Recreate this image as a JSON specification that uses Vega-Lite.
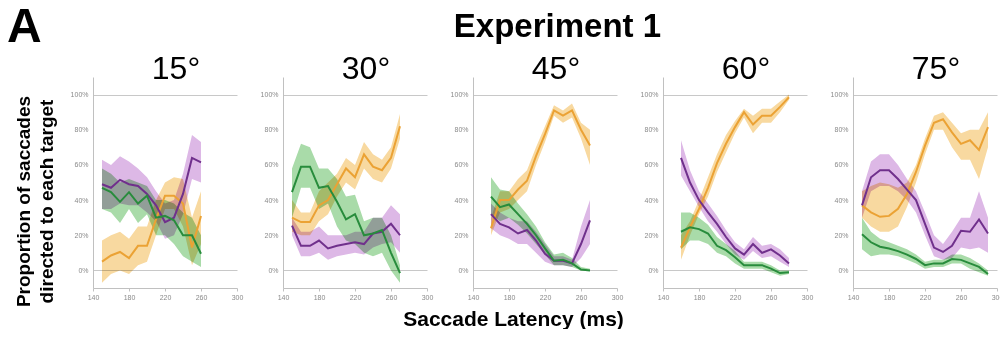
{
  "$schema": "https://vega.github.io/schema/vega-lite/v6.json",
  "padding": {"left": 7, "top": 4, "right": 0, "bottom": 0},
  "background": "white",
  "title": {"text": "A", "anchor": "start", "fontSize": 48, "fontWeight": "bold", "font": "Liberation Sans", "color": "black", "baseline": "alphabetic", "offset": -79, "frame": "bounds", "dx": -7},
  "data": {"values": [
    {"p":"15","s":"orange","x":150,"m":5,"lo":-7,"hi":17},
    {"p":"15","s":"orange","x":160,"m":8.5,"lo":-2,"hi":20},
    {"p":"15","s":"orange","x":170,"m":10.5,"lo":0,"hi":22},
    {"p":"15","s":"orange","x":180,"m":7,"lo":-2,"hi":18},
    {"p":"15","s":"orange","x":190,"m":14,"lo":3,"hi":25},
    {"p":"15","s":"orange","x":200,"m":14,"lo":5,"hi":25},
    {"p":"15","s":"orange","x":210,"m":29,"lo":20,"hi":40},
    {"p":"15","s":"orange","x":220,"m":42.5,"lo":35,"hi":50},
    {"p":"15","s":"orange","x":230,"m":42.5,"lo":35,"hi":53},
    {"p":"15","s":"orange","x":240,"m":38,"lo":25,"hi":52},
    {"p":"15","s":"orange","x":250,"m":13,"lo":3,"hi":30},
    {"p":"15","s":"orange","x":260,"m":31,"lo":15,"hi":45},
    {"p":"15","s":"purple","x":150,"m":49,"lo":35,"hi":63},
    {"p":"15","s":"purple","x":160,"m":47,"lo":35,"hi":60},
    {"p":"15","s":"purple","x":170,"m":51.5,"lo":38,"hi":65},
    {"p":"15","s":"purple","x":180,"m":49,"lo":37,"hi":62},
    {"p":"15","s":"purple","x":190,"m":48,"lo":37,"hi":58},
    {"p":"15","s":"purple","x":200,"m":43.5,"lo":33,"hi":53},
    {"p":"15","s":"purple","x":210,"m":37,"lo":28,"hi":45},
    {"p":"15","s":"purple","x":220,"m":27.5,"lo":18,"hi":38},
    {"p":"15","s":"purple","x":230,"m":30,"lo":20,"hi":40},
    {"p":"15","s":"purple","x":240,"m":43.5,"lo":32,"hi":55},
    {"p":"15","s":"purple","x":250,"m":64,"lo":52,"hi":77},
    {"p":"15","s":"purple","x":260,"m":61.5,"lo":50,"hi":73},
    {"p":"15","s":"green","x":150,"m":47,"lo":35,"hi":58},
    {"p":"15","s":"green","x":160,"m":44.5,"lo":33,"hi":55},
    {"p":"15","s":"green","x":170,"m":39,"lo":27,"hi":50},
    {"p":"15","s":"green","x":180,"m":44.5,"lo":35,"hi":52},
    {"p":"15","s":"green","x":190,"m":38,"lo":27,"hi":50},
    {"p":"15","s":"green","x":200,"m":42.5,"lo":32,"hi":48},
    {"p":"15","s":"green","x":210,"m":30,"lo":20,"hi":40},
    {"p":"15","s":"green","x":220,"m":31,"lo":20,"hi":40},
    {"p":"15","s":"green","x":230,"m":28.5,"lo":15,"hi":38},
    {"p":"15","s":"green","x":240,"m":20,"lo":8,"hi":33},
    {"p":"15","s":"green","x":250,"m":20,"lo":5,"hi":30},
    {"p":"15","s":"green","x":260,"m":9.5,"lo":2,"hi":20},

    {"p":"30","s":"orange","x":150,"m":30,"lo":22,"hi":40},
    {"p":"30","s":"orange","x":160,"m":27.5,"lo":20,"hi":33},
    {"p":"30","s":"orange","x":170,"m":27.5,"lo":20,"hi":33},
    {"p":"30","s":"orange","x":180,"m":37,"lo":28,"hi":45},
    {"p":"30","s":"orange","x":190,"m":40,"lo":32,"hi":50},
    {"p":"30","s":"orange","x":200,"m":49,"lo":42,"hi":55},
    {"p":"30","s":"orange","x":210,"m":58,"lo":50,"hi":64},
    {"p":"30","s":"orange","x":220,"m":53,"lo":46,"hi":60},
    {"p":"30","s":"orange","x":230,"m":66,"lo":58,"hi":73},
    {"p":"30","s":"orange","x":240,"m":59,"lo":52,"hi":66},
    {"p":"30","s":"orange","x":250,"m":57,"lo":50,"hi":63},
    {"p":"30","s":"orange","x":260,"m":64,"lo":58,"hi":70},
    {"p":"30","s":"orange","x":270,"m":82,"lo":75,"hi":89},
    {"p":"30","s":"purple","x":150,"m":25.5,"lo":20,"hi":30},
    {"p":"30","s":"purple","x":160,"m":14,"lo":8,"hi":22},
    {"p":"30","s":"purple","x":170,"m":14,"lo":8,"hi":22},
    {"p":"30","s":"purple","x":180,"m":17,"lo":10,"hi":25},
    {"p":"30","s":"purple","x":190,"m":12.5,"lo":6,"hi":20},
    {"p":"30","s":"purple","x":200,"m":14,"lo":8,"hi":20},
    {"p":"30","s":"purple","x":210,"m":15,"lo":9,"hi":20},
    {"p":"30","s":"purple","x":220,"m":16,"lo":10,"hi":22},
    {"p":"30","s":"purple","x":230,"m":15,"lo":9,"hi":22},
    {"p":"30","s":"purple","x":240,"m":21,"lo":13,"hi":30},
    {"p":"30","s":"purple","x":250,"m":22,"lo":15,"hi":30},
    {"p":"30","s":"purple","x":260,"m":26.5,"lo":16,"hi":37},
    {"p":"30","s":"purple","x":270,"m":20,"lo":10,"hi":32},
    {"p":"30","s":"green","x":150,"m":44.5,"lo":30,"hi":58},
    {"p":"30","s":"green","x":160,"m":59,"lo":47,"hi":72},
    {"p":"30","s":"green","x":170,"m":59,"lo":47,"hi":70},
    {"p":"30","s":"green","x":180,"m":47,"lo":35,"hi":58},
    {"p":"30","s":"green","x":190,"m":48,"lo":38,"hi":58},
    {"p":"30","s":"green","x":200,"m":39,"lo":25,"hi":52},
    {"p":"30","s":"green","x":210,"m":29,"lo":17,"hi":42},
    {"p":"30","s":"green","x":220,"m":32,"lo":15,"hi":43},
    {"p":"30","s":"green","x":230,"m":20,"lo":10,"hi":28},
    {"p":"30","s":"green","x":240,"m":21,"lo":8,"hi":30},
    {"p":"30","s":"green","x":250,"m":23,"lo":10,"hi":30},
    {"p":"30","s":"green","x":260,"m":10,"lo":0,"hi":20},
    {"p":"30","s":"green","x":270,"m":-1.5,"lo":-7,"hi":3},

    {"p":"45","s":"orange","x":160,"m":24,"lo":20,"hi":30},
    {"p":"45","s":"orange","x":170,"m":40,"lo":33,"hi":45},
    {"p":"45","s":"orange","x":180,"m":40,"lo":35,"hi":45},
    {"p":"45","s":"orange","x":190,"m":46,"lo":40,"hi":52},
    {"p":"45","s":"orange","x":200,"m":51,"lo":45,"hi":57},
    {"p":"45","s":"orange","x":210,"m":65,"lo":60,"hi":70},
    {"p":"45","s":"orange","x":220,"m":77.5,"lo":73,"hi":82},
    {"p":"45","s":"orange","x":230,"m":91,"lo":88,"hi":94},
    {"p":"45","s":"orange","x":240,"m":88,"lo":84,"hi":91},
    {"p":"45","s":"orange","x":250,"m":91,"lo":87,"hi":95},
    {"p":"45","s":"orange","x":260,"m":80,"lo":75,"hi":84},
    {"p":"45","s":"orange","x":270,"m":71,"lo":60,"hi":80},
    {"p":"45","s":"purple","x":160,"m":32,"lo":24,"hi":38},
    {"p":"45","s":"purple","x":170,"m":26.5,"lo":20,"hi":33},
    {"p":"45","s":"purple","x":180,"m":24.5,"lo":18,"hi":30},
    {"p":"45","s":"purple","x":190,"m":21,"lo":15,"hi":28},
    {"p":"45","s":"purple","x":200,"m":23,"lo":15,"hi":28},
    {"p":"45","s":"purple","x":210,"m":17,"lo":10,"hi":22},
    {"p":"45","s":"purple","x":220,"m":9.5,"lo":5,"hi":15},
    {"p":"45","s":"purple","x":230,"m":5.5,"lo":3,"hi":8},
    {"p":"45","s":"purple","x":240,"m":5.5,"lo":3,"hi":8},
    {"p":"45","s":"purple","x":250,"m":4,"lo":2,"hi":6},
    {"p":"45","s":"purple","x":260,"m":15,"lo":7,"hi":25},
    {"p":"45","s":"purple","x":270,"m":28.5,"lo":15,"hi":40},
    {"p":"45","s":"green","x":160,"m":42,"lo":32,"hi":53},
    {"p":"45","s":"green","x":170,"m":36,"lo":28,"hi":46},
    {"p":"45","s":"green","x":180,"m":37.5,"lo":30,"hi":45},
    {"p":"45","s":"green","x":190,"m":32,"lo":26,"hi":38},
    {"p":"45","s":"green","x":200,"m":26.5,"lo":21,"hi":32},
    {"p":"45","s":"green","x":210,"m":20,"lo":15,"hi":25},
    {"p":"45","s":"green","x":220,"m":12.5,"lo":9,"hi":16},
    {"p":"45","s":"green","x":230,"m":5.5,"lo":3,"hi":9},
    {"p":"45","s":"green","x":240,"m":6,"lo":3,"hi":10},
    {"p":"45","s":"green","x":250,"m":4,"lo":2,"hi":7},
    {"p":"45","s":"green","x":260,"m":0.5,"lo":0,"hi":2},
    {"p":"45","s":"green","x":270,"m":0,"lo":0,"hi":1},

    {"p":"60","s":"orange","x":160,"m":13,"lo":6,"hi":20},
    {"p":"60","s":"orange","x":170,"m":24.5,"lo":20,"hi":28},
    {"p":"60","s":"orange","x":180,"m":35,"lo":32,"hi":40},
    {"p":"60","s":"orange","x":190,"m":47,"lo":42,"hi":53},
    {"p":"60","s":"orange","x":200,"m":61,"lo":56,"hi":66},
    {"p":"60","s":"orange","x":210,"m":72,"lo":67,"hi":77},
    {"p":"60","s":"orange","x":220,"m":81.5,"lo":78,"hi":85},
    {"p":"60","s":"orange","x":230,"m":90,"lo":87,"hi":92},
    {"p":"60","s":"orange","x":240,"m":83,"lo":78,"hi":88},
    {"p":"60","s":"orange","x":250,"m":88,"lo":84,"hi":92},
    {"p":"60","s":"orange","x":260,"m":88,"lo":84,"hi":92},
    {"p":"60","s":"orange","x":270,"m":93,"lo":90,"hi":96},
    {"p":"60","s":"orange","x":280,"m":98.5,"lo":97,"hi":100},
    {"p":"60","s":"purple","x":160,"m":64,"lo":54,"hi":74},
    {"p":"60","s":"purple","x":170,"m":50,"lo":45,"hi":57},
    {"p":"60","s":"purple","x":180,"m":40,"lo":36,"hi":45},
    {"p":"60","s":"purple","x":190,"m":33,"lo":28,"hi":38},
    {"p":"60","s":"purple","x":200,"m":26.5,"lo":22,"hi":31},
    {"p":"60","s":"purple","x":210,"m":19,"lo":15,"hi":23},
    {"p":"60","s":"purple","x":220,"m":12.5,"lo":9,"hi":16},
    {"p":"60","s":"purple","x":230,"m":9,"lo":6,"hi":12},
    {"p":"60","s":"purple","x":240,"m":15,"lo":11,"hi":19},
    {"p":"60","s":"purple","x":250,"m":10,"lo":7,"hi":14},
    {"p":"60","s":"purple","x":260,"m":12,"lo":8,"hi":15},
    {"p":"60","s":"purple","x":270,"m":8.5,"lo":5,"hi":12},
    {"p":"60","s":"purple","x":280,"m":4,"lo":2,"hi":7},
    {"p":"60","s":"green","x":160,"m":22,"lo":12,"hi":33},
    {"p":"60","s":"green","x":170,"m":24.5,"lo":17,"hi":33},
    {"p":"60","s":"green","x":180,"m":23.5,"lo":17,"hi":30},
    {"p":"60","s":"green","x":190,"m":21,"lo":15,"hi":26},
    {"p":"60","s":"green","x":200,"m":14,"lo":10,"hi":19},
    {"p":"60","s":"green","x":210,"m":11.5,"lo":8,"hi":15},
    {"p":"60","s":"green","x":220,"m":7.5,"lo":4,"hi":11},
    {"p":"60","s":"green","x":230,"m":3,"lo":1,"hi":5},
    {"p":"60","s":"green","x":240,"m":3,"lo":1,"hi":5},
    {"p":"60","s":"green","x":250,"m":3,"lo":1,"hi":5},
    {"p":"60","s":"green","x":260,"m":1,"lo":-1,"hi":3},
    {"p":"60","s":"green","x":270,"m":-1.5,"lo":-3,"hi":0},
    {"p":"60","s":"green","x":280,"m":-1,"lo":-2,"hi":0},

    {"p":"75","s":"orange","x":150,"m":37,"lo":30,"hi":45},
    {"p":"75","s":"orange","x":160,"m":33,"lo":25,"hi":48},
    {"p":"75","s":"orange","x":170,"m":30.5,"lo":22,"hi":50},
    {"p":"75","s":"orange","x":180,"m":31,"lo":22,"hi":49},
    {"p":"75","s":"orange","x":190,"m":35,"lo":25,"hi":47},
    {"p":"75","s":"orange","x":200,"m":43.5,"lo":36,"hi":50},
    {"p":"75","s":"orange","x":210,"m":56,"lo":50,"hi":60},
    {"p":"75","s":"orange","x":220,"m":71,"lo":66,"hi":75},
    {"p":"75","s":"orange","x":230,"m":84,"lo":80,"hi":88},
    {"p":"75","s":"orange","x":240,"m":86,"lo":80,"hi":90},
    {"p":"75","s":"orange","x":250,"m":78.5,"lo":70,"hi":84},
    {"p":"75","s":"orange","x":260,"m":72,"lo":63,"hi":78},
    {"p":"75","s":"orange","x":270,"m":74,"lo":63,"hi":80},
    {"p":"75","s":"orange","x":280,"m":68.5,"lo":52,"hi":80},
    {"p":"75","s":"orange","x":290,"m":81.5,"lo":70,"hi":90},
    {"p":"75","s":"purple","x":150,"m":37,"lo":30,"hi":45},
    {"p":"75","s":"purple","x":160,"m":53,"lo":45,"hi":62},
    {"p":"75","s":"purple","x":170,"m":57,"lo":48,"hi":66},
    {"p":"75","s":"purple","x":180,"m":57,"lo":48,"hi":66},
    {"p":"75","s":"purple","x":190,"m":52,"lo":45,"hi":60},
    {"p":"75","s":"purple","x":200,"m":46,"lo":40,"hi":52},
    {"p":"75","s":"purple","x":210,"m":40,"lo":33,"hi":45},
    {"p":"75","s":"purple","x":220,"m":26.5,"lo":20,"hi":33},
    {"p":"75","s":"purple","x":230,"m":13,"lo":8,"hi":20},
    {"p":"75","s":"purple","x":240,"m":10.5,"lo":6,"hi":15},
    {"p":"75","s":"purple","x":250,"m":14,"lo":7,"hi":22},
    {"p":"75","s":"purple","x":260,"m":22.5,"lo":13,"hi":30},
    {"p":"75","s":"purple","x":270,"m":22,"lo":12,"hi":30},
    {"p":"75","s":"purple","x":280,"m":29,"lo":13,"hi":45},
    {"p":"75","s":"purple","x":290,"m":21,"lo":10,"hi":30},
    {"p":"75","s":"green","x":150,"m":20.5,"lo":12,"hi":30},
    {"p":"75","s":"green","x":160,"m":16,"lo":8,"hi":22},
    {"p":"75","s":"green","x":170,"m":13.5,"lo":9,"hi":18},
    {"p":"75","s":"green","x":180,"m":12.5,"lo":9,"hi":16},
    {"p":"75","s":"green","x":190,"m":11,"lo":8,"hi":14},
    {"p":"75","s":"green","x":200,"m":9,"lo":6,"hi":12},
    {"p":"75","s":"green","x":210,"m":6.5,"lo":4,"hi":9},
    {"p":"75","s":"green","x":220,"m":3,"lo":1,"hi":5},
    {"p":"75","s":"green","x":230,"m":4,"lo":2,"hi":6},
    {"p":"75","s":"green","x":240,"m":4,"lo":2,"hi":6},
    {"p":"75","s":"green","x":250,"m":6.5,"lo":4,"hi":9},
    {"p":"75","s":"green","x":260,"m":6,"lo":4,"hi":9},
    {"p":"75","s":"green","x":270,"m":4,"lo":1,"hi":7},
    {"p":"75","s":"green","x":280,"m":2,"lo":-1,"hi":4},
    {"p":"75","s":"green","x":290,"m":-2,"lo":-3,"hi":0}
  ]},
  "vconcat": [{
    "title": {"text": "Experiment 1", "anchor": "middle", "frame": "bounds", "fontSize": 33, "fontWeight": "bold", "font": "Liberation Sans", "color": "black", "baseline": "alphabetic", "offset": -17, "dx": 49},
    "bounds": "flush",
    "spacing": 46,
    "hconcat": [
      {"title": {"text": "15°", "fontSize": 32, "fontWeight": "normal", "font": "Liberation Sans", "color": "black", "baseline": "alphabetic", "offset": -34, "dx": 11, "anchor": "middle"},
       "width": 144, "height": 211,
       "transform": [{"filter": "datum.p == '15'"}],
       "encoding": {
         "x": {"field": "x", "type": "quantitative", "scale": {"domain": [140, 300], "nice": false, "zero": false}, "axis": {"values": [140,180,220,260,300], "labelFlush": false, "grid": false, "title": null}}
       },
       "layer": [
         {"mark": {"type": "area", "blend": "multiply", "opacity": 1},
          "encoding": {"y": {"field": "lo", "type": "quantitative", "scale": {"domain": [-10, 110], "nice": false}, "axis": {"values": [0,20,40,60,80,100], "labelExpr": "datum.value + '%'", "title": ["Proportion of saccades", "directed to each target"], "titleY": 124}}, "y2": {"field": "hi"},
            "color": {"field": "s", "type": "nominal", "legend": null, "scale": {"domain": ["orange","purple","green"], "range": ["#F8D9A0","#DDB8E6","#A9DBA9"]}}}},
         {"mark": {"type": "line", "strokeWidth": 2},
          "encoding": {"y": {"field": "m", "type": "quantitative", "axis": {"values": [0,20,40,60,80,100], "labelExpr": "datum.value + '%'", "title": ["Proportion of saccades", "directed to each target"], "titleY": 124}},
            "stroke": {"field": "s", "type": "nominal", "legend": null, "scale": {"domain": ["orange","purple","green"], "range": ["#EBA234","#70308C","#288C3C"]}}}}
       ]},
      {"title": {"text": "30°", "fontSize": 32, "fontWeight": "normal", "font": "Liberation Sans", "color": "black", "baseline": "alphabetic", "offset": -34, "dx": 11, "anchor": "middle"},
       "width": 144, "height": 211,
       "transform": [{"filter": "datum.p == '30'"}],
       "encoding": {
         "x": {"field": "x", "type": "quantitative", "scale": {"domain": [140, 300], "nice": false, "zero": false}, "axis": {"values": [140,180,220,260,300], "labelFlush": false, "grid": false, "title": null}}
       },
       "layer": [
         {"mark": {"type": "area", "blend": "multiply", "opacity": 1},
          "encoding": {"y": {"field": "lo", "type": "quantitative", "scale": {"domain": [-10, 110], "nice": false}, "axis": {"values": [0,20,40,60,80,100], "labelExpr": "datum.value + '%'", "title": null}}, "y2": {"field": "hi"},
            "color": {"field": "s", "type": "nominal", "legend": null, "scale": {"domain": ["orange","purple","green"], "range": ["#F8D9A0","#DDB8E6","#A9DBA9"]}}}},
         {"mark": {"type": "line", "strokeWidth": 2},
          "encoding": {"y": {"field": "m", "type": "quantitative", "axis": {"values": [0,20,40,60,80,100], "labelExpr": "datum.value + '%'", "title": null}},
            "stroke": {"field": "s", "type": "nominal", "legend": null, "scale": {"domain": ["orange","purple","green"], "range": ["#EBA234","#70308C","#288C3C"]}}}}
       ]},
      {"title": {"text": "45°", "fontSize": 32, "fontWeight": "normal", "font": "Liberation Sans", "color": "black", "baseline": "alphabetic", "offset": -34, "dx": 11, "anchor": "middle"},
       "width": 144, "height": 211,
       "transform": [{"filter": "datum.p == '45'"}],
       "encoding": {
         "x": {"field": "x", "type": "quantitative", "scale": {"domain": [140, 300], "nice": false, "zero": false}, "axis": {"values": [140,180,220,260,300], "labelFlush": false, "grid": false, "title": "Saccade Latency (ms)", "titleX": 40}}
       },
       "layer": [
         {"mark": {"type": "area", "blend": "multiply", "opacity": 1},
          "encoding": {"y": {"field": "lo", "type": "quantitative", "scale": {"domain": [-10, 110], "nice": false}, "axis": {"values": [0,20,40,60,80,100], "labelExpr": "datum.value + '%'", "title": null}}, "y2": {"field": "hi"},
            "color": {"field": "s", "type": "nominal", "legend": null, "scale": {"domain": ["orange","purple","green"], "range": ["#F8D9A0","#DDB8E6","#A9DBA9"]}}}},
         {"mark": {"type": "line", "strokeWidth": 2},
          "encoding": {"y": {"field": "m", "type": "quantitative", "axis": {"values": [0,20,40,60,80,100], "labelExpr": "datum.value + '%'", "title": null}},
            "stroke": {"field": "s", "type": "nominal", "legend": null, "scale": {"domain": ["orange","purple","green"], "range": ["#EBA234","#70308C","#288C3C"]}}}}
       ]},
      {"title": {"text": "60°", "fontSize": 32, "fontWeight": "normal", "font": "Liberation Sans", "color": "black", "baseline": "alphabetic", "offset": -34, "dx": 11, "anchor": "middle"},
       "width": 144, "height": 211,
       "transform": [{"filter": "datum.p == '60'"}],
       "encoding": {
         "x": {"field": "x", "type": "quantitative", "scale": {"domain": [140, 300], "nice": false, "zero": false}, "axis": {"values": [140,180,220,260,300], "labelFlush": false, "grid": false, "title": null}}
       },
       "layer": [
         {"mark": {"type": "area", "blend": "multiply", "opacity": 1},
          "encoding": {"y": {"field": "lo", "type": "quantitative", "scale": {"domain": [-10, 110], "nice": false}, "axis": {"values": [0,20,40,60,80,100], "labelExpr": "datum.value + '%'", "title": null}}, "y2": {"field": "hi"},
            "color": {"field": "s", "type": "nominal", "legend": null, "scale": {"domain": ["orange","purple","green"], "range": ["#F8D9A0","#DDB8E6","#A9DBA9"]}}}},
         {"mark": {"type": "line", "strokeWidth": 2},
          "encoding": {"y": {"field": "m", "type": "quantitative", "axis": {"values": [0,20,40,60,80,100], "labelExpr": "datum.value + '%'", "title": null}},
            "stroke": {"field": "s", "type": "nominal", "legend": null, "scale": {"domain": ["orange","purple","green"], "range": ["#EBA234","#70308C","#288C3C"]}}}}
       ]},
      {"title": {"text": "75°", "fontSize": 32, "fontWeight": "normal", "font": "Liberation Sans", "color": "black", "baseline": "alphabetic", "offset": -34, "dx": 11, "anchor": "middle"},
       "width": 144, "height": 211,
       "transform": [{"filter": "datum.p == '75'"}],
       "encoding": {
         "x": {"field": "x", "type": "quantitative", "scale": {"domain": [140, 300], "nice": false, "zero": false}, "axis": {"values": [140,180,220,260,300], "labelFlush": false, "grid": false, "title": null}}
       },
       "layer": [
         {"mark": {"type": "area", "blend": "multiply", "opacity": 1},
          "encoding": {"y": {"field": "lo", "type": "quantitative", "scale": {"domain": [-10, 110], "nice": false}, "axis": {"values": [0,20,40,60,80,100], "labelExpr": "datum.value + '%'", "title": null}}, "y2": {"field": "hi"},
            "color": {"field": "s", "type": "nominal", "legend": null, "scale": {"domain": ["orange","purple","green"], "range": ["#F8D9A0","#DDB8E6","#A9DBA9"]}}}},
         {"mark": {"type": "line", "strokeWidth": 2},
          "encoding": {"y": {"field": "m", "type": "quantitative", "axis": {"values": [0,20,40,60,80,100], "labelExpr": "datum.value + '%'", "title": null}},
            "stroke": {"field": "s", "type": "nominal", "legend": null, "scale": {"domain": ["orange","purple","green"], "range": ["#EBA234","#70308C","#288C3C"]}}}}
       ]}
    ]
  }],
  "config": {
    "view": {"stroke": null},
    "axis": {"labelFont": "Liberation Sans", "labelFontSize": 7, "labelColor": "#8a8a8a", "domainColor": "#c0c0c0", "tickColor": "#c0c0c0", "tickSize": 3, "titleFont": "Liberation Sans", "titleColor": "black", "titleFontWeight": "bold"},
    "axisX": {"labelPadding": 2, "titleFontSize": 21, "titlePadding": 8},
    "axisY": {"ticks": false, "labelPadding": 5, "titleFontSize": 19, "titleLineHeight": 23, "titlePadding": 14,
      "grid": true, "gridColor": {"condition": {"test": "datum.value === 0 || datum.value === 100", "value": "#c8c8c8"}, "value": "transparent"}}
  }
}
